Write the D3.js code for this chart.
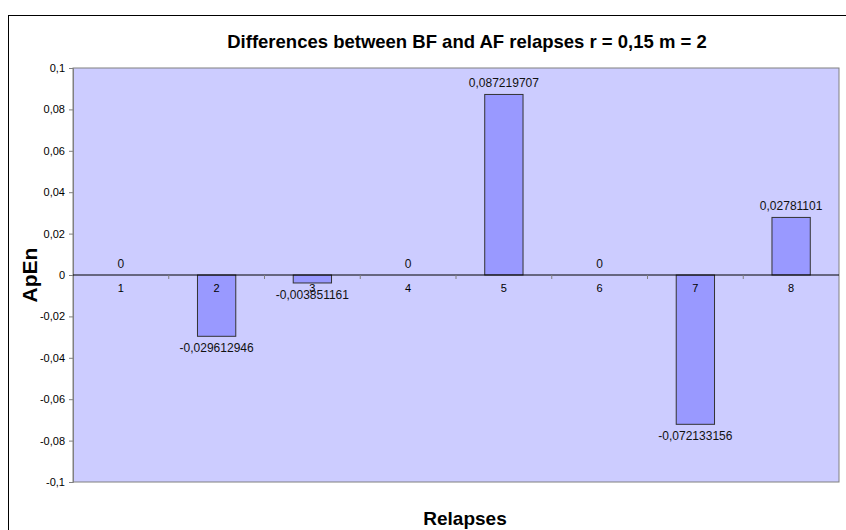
<html>
<head>
<meta charset="utf-8">
<script src="https://d3js.org/d3.v7.min.js"></script>
<style>
body { margin: 0; background: #fff; font-family: 'Liberation Sans', Arial, sans-serif; }
</style>
</head>
<body>
<div id="chart"></div>
<script>
// data
var categories = ["1", "2", "3", "4", "5", "6", "7", "8"];
var values = [0, -0.029612946, -0.003851161, 0, 0.087219707, 0, -0.072133156, 0.02781101];
var valueLabels = ["0", "-0,029612946", "-0,003851161", "0", "0,087219707", "0", "-0,072133156", "0,02781101"];
var yTicks = [0.1, 0.08, 0.06, 0.04, 0.02, 0, -0.02, -0.04, -0.06, -0.08, -0.1];

var W = 846, H = 530;
var margin = {left: 73, top: 68, right: 7, bottom: 48};

var svg = d3.select("#chart").append("svg")
  .attr("width", W).attr("height", H);

// outer chart frame
svg.append("rect")
  .attr("x", 8.5).attr("y", 15.5)
  .attr("width", W).attr("height", H)
  .attr("fill", "#fff").attr("stroke", "#000");

var x = d3.scaleBand().domain(categories)
  .range([margin.left, W - margin.right]).paddingInner(0).paddingOuter(0);
var y = d3.scaleLinear().domain([-0.1, 0.1])
  .range([H - margin.bottom, margin.top]);

// plot area
svg.append("rect")
  .attr("x", x.range()[0]).attr("y", y(0.1))
  .attr("width", x.range()[1] - x.range()[0])
  .attr("height", y(-0.1) - y(0.1))
  .attr("fill", "#CCCCFF").attr("stroke", "#808080");

// y axis, decimal comma and plain hyphen minus
var yAxis = svg.append("g")
  .attr("transform", "translate(" + margin.left + ",0)")
  .call(d3.axisLeft(y).tickValues(yTicks).tickSize(4).tickPadding(4)
    .tickFormat(function(d) {
      if (d === 0) return "0";
      return (d < 0 ? "-" : "") + String(+Math.abs(d).toFixed(2)).replace(".", ",");
    }));
yAxis.select(".domain").attr("stroke", "#808080");
yAxis.selectAll(".tick line").attr("stroke", "#808080");
yAxis.selectAll("text").attr("font-size", 11).attr("fill", "#000")
  .attr("font-family", "'Liberation Sans', Arial, sans-serif");

// bars
var barW = x.bandwidth() * 0.4;
svg.selectAll(".bar")
  .data(values)
  .enter().append("rect")
  .attr("class", "bar")
  .attr("x", function(d, i) { return x(categories[i]) + (x.bandwidth() - barW) / 2; })
  .attr("y", function(d) { return y(Math.max(0, d)); })
  .attr("width", barW)
  .attr("height", function(d) { return Math.abs(y(d) - y(0)); })
  .attr("fill", "#9999FF").attr("stroke", "#333")
  .style("display", function(d) { return d === 0 ? "none" : null; });

// zero axis with category ticks between bands
svg.append("line")
  .attr("x1", x.range()[0]).attr("x2", x.range()[1])
  .attr("y1", y(0)).attr("y2", y(0))
  .attr("stroke", "#000");
svg.selectAll(".ctick")
  .data(categories.slice(1))
  .enter().append("line")
  .attr("x1", function(d) { return x(d); }).attr("x2", function(d) { return x(d); })
  .attr("y1", y(0)).attr("y2", y(0) + 4)
  .attr("stroke", "#808080");
svg.selectAll(".clabel")
  .data(categories)
  .enter().append("text")
  .attr("x", function(d) { return x(d) + x.bandwidth() / 2; })
  .attr("y", y(0) + 17)
  .attr("text-anchor", "middle").attr("font-size", 11)
  .text(function(d) { return d; });

// data labels
svg.selectAll(".vlabel")
  .data(values)
  .enter().append("text")
  .attr("x", function(d, i) { return x(categories[i]) + x.bandwidth() / 2; })
  .attr("y", function(d) { return d < 0 ? y(d) + 16 : y(d) - 7; })
  .attr("text-anchor", "middle").attr("font-size", 12)
  .attr("fill", "#111")
  .text(function(d, i) { return valueLabels[i]; });

// titles
svg.append("text")
  .attr("x", 467).attr("y", 48)
  .attr("text-anchor", "middle")
  .attr("font-size", 18.5).attr("font-weight", "bold")
  .text("Differences between BF and AF relapses r = 0,15 m = 2");

svg.append("text")
  .attr("transform", "translate(37," + y(0) + ") rotate(-90)")
  .attr("text-anchor", "middle")
  .attr("font-size", 21).attr("font-weight", "bold")
  .text("ApEn");

svg.append("text")
  .attr("x", 465).attr("y", 525)
  .attr("text-anchor", "middle")
  .attr("font-size", 19).attr("font-weight", "bold")
  .text("Relapses");
</script>
</body>
</html>
